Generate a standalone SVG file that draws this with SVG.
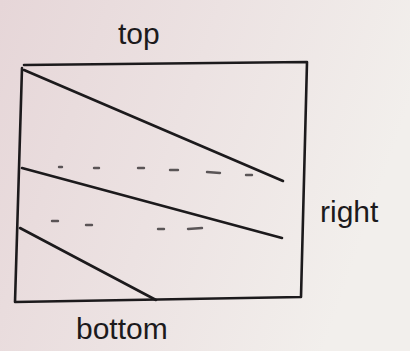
<svg xmlns="http://www.w3.org/2000/svg" width="410" height="351" viewBox="0 0 410 351">
<defs>
<linearGradient id="paper" x1="0" y1="0" x2="1" y2="0.3">
<stop offset="0" stop-color="#e6d6d8"/>
<stop offset="0.5" stop-color="#ece2e2"/>
<stop offset="1" stop-color="#f2efec"/>
</linearGradient>
</defs>
<style>
.ink{stroke:#1c1a1c;stroke-width:2.6;fill:none;stroke-linecap:round;stroke-linejoin:round}
.dash{stroke:#2a2628;stroke-width:2.4;stroke-linecap:round;opacity:0.75}
.lbl{font-family:"Liberation Sans",sans-serif;font-size:30px;fill:#1c1a1c}
</style>
<rect width="410" height="351" fill="url(#paper)"/>
<g id="frame">
<path class="ink" d="M24,65 L307,62 L301,297 L15,302 L22,68"/>
</g>
<g id="connectors">
<path class="ink" d="M24,70 L283,181"/>
<path class="ink" d="M22,168 L282,238"/>
<path class="ink" d="M20,228 L156,300"/>
<g>
<line class="dash" x1="59" y1="167" x2="62" y2="167"/>
<line class="dash" x1="94" y1="168" x2="99" y2="168"/>
<line class="dash" x1="138" y1="168" x2="144" y2="168"/>
<line class="dash" x1="170" y1="170" x2="178" y2="170"/>
<line class="dash" x1="207" y1="172" x2="220" y2="173"/>
<line class="dash" x1="246" y1="175" x2="252" y2="175"/>
<line class="dash" x1="52" y1="221" x2="58" y2="221"/>
<line class="dash" x1="86" y1="225" x2="92" y2="225"/>
<line class="dash" x1="158" y1="229" x2="164" y2="229"/>
<line class="dash" x1="188" y1="229" x2="202" y2="228"/>
</g>
</g>
<g id="label-top"><text class="lbl" x="118" y="44">top</text></g>
<g id="label-right"><text class="lbl" x="320" y="222">right</text></g>
<g id="label-bottom"><text class="lbl" x="76" y="339">bottom</text></g>
</svg>
